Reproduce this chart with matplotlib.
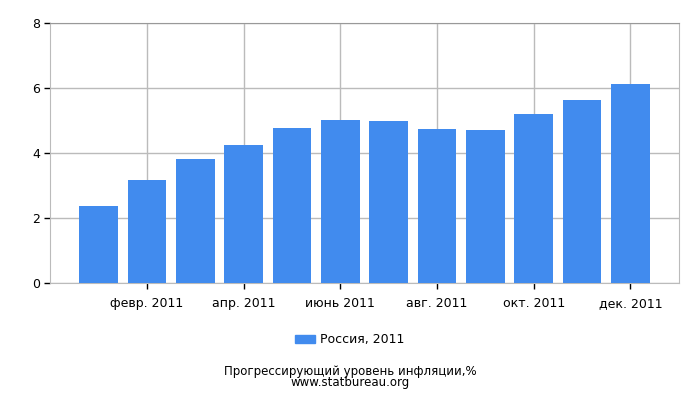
import matplotlib.pyplot as plt
import matplotlib.patches as mpatches

months = ['янв. 2011', 'февр. 2011', 'март 2011', 'апр. 2011', 'май 2011', 'июнь 2011',
          'июль 2011', 'авг. 2011', 'сент. 2011', 'окт. 2011', 'нояб. 2011', 'дек. 2011']
values = [2.37, 3.17, 3.81, 4.24, 4.76, 5.01, 4.98, 4.73, 4.70, 5.19, 5.62, 6.11]
series_name = 'Россия, 2011'
title = 'Прогрессирующий уровень инфляции,%'
source = 'www.statbureau.org'

blue = '#418BEE'
grid = '#BBBBBB'

fig = plt.figure(figsize=(7, 4), dpi=100)
ax = fig.add_axes([0.0721, 0.2918, 0.8975, 0.6515])

x = list(range(len(values)))
ax.bar(x, values, width=0.8, color=blue, zorder=3)

ax.set_xlim(-1, 12)
ax.set_ylim(0, 8)
ax.set_yticks([0, 2, 4, 6, 8])
ticks = [i for i in x if i % 2 == 1]
ax.set_xticks(ticks)
ax.set_xticklabels([months[i] for i in ticks])
ax.tick_params(axis='both', labelsize=9, color='black', length=4, width=1)
ax.tick_params(axis='x', pad=6)
ax.grid(True, color=grid, linewidth=1, zorder=0)

for s in ['left', 'bottom', 'right']:
    ax.spines[s].set_color(grid)
ax.spines['top'].set_color('#999999')

handle = mpatches.Patch(color=blue, label=series_name)
fig.legend(handles=[handle], loc='center', bbox_to_anchor=(0.5, 0.15), frameon=False,
           fontsize=9, handlelength=1.6, handleheight=0.6, handletextpad=0.4)

# подпись снизу: две строки в одном тексте
fig.text(0.5, 0.058, title + '\n' + source, ha='center', va='center',
         fontsize=8.5, linespacing=0.85)

fig.savefig('out.png')
